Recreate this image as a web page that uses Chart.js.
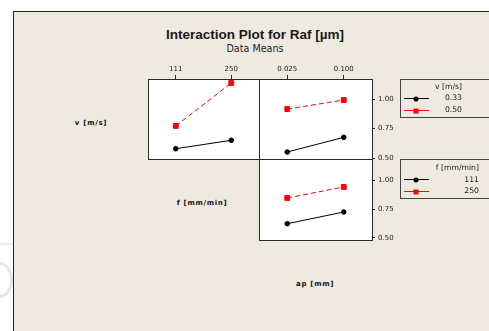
<!DOCTYPE html>
<html>
<head>
<meta charset="utf-8">
<script src="https://cdn.jsdelivr.net/npm/chart.js@4"></script>
<style>
  body { margin: 0; width: 489px; height: 331px; background: #fff; overflow: hidden; position: relative; font-family: "DejaVu Sans", sans-serif; color: #1a1a1a; }
  .frame { position: absolute; left: 13px; top: 11px; width: 480px; height: 330px; background: #eeeae0; border-left: 1px solid #222; border-top: 1px solid #222; }
  .mark { position: absolute; left: -13px; top: 262px; width: 20px; height: 30px; border: 3px solid #e6e6e6; border-radius: 50%; }
  .mark2 { position: absolute; left: 0; top: 243px; width: 13px; height: 2px; background: #ececec; }
  canvas { position: absolute; }
  .txt { position: absolute; white-space: nowrap; transform: translate(-50%, -50%); line-height: 1; }
  .rtxt { position: absolute; white-space: nowrap; transform: translate(-100%, -50%); line-height: 1; font-size: 7.7px; }
  .lgbox { position: absolute; border: 1px solid #444; }
  .lgline { position: absolute; height: 1px; width: 25px; }
  .dot { position: absolute; width: 5px; height: 5px; border-radius: 50%; background: #000; transform: translate(-50%, -50%); }
  .sq { position: absolute; width: 5px; height: 5px; background: #f00; transform: translate(-50%, -50%); }
  .row { font: bold 7px "DejaVu Sans", sans-serif; letter-spacing: 0.7px; color: #111; }
</style>
</head>
<body>
<div class="mark2"></div>
<div class="mark"></div>
<div class="frame"></div>

<div class="txt" style="left:255px; top:34px; font: bold 13.5px 'Liberation Sans', sans-serif;">Interaction Plot for Raf [µm]</div>
<div class="txt" style="left:255px; top:49px; font-size:9.6px;">Data Means</div>

<div class="txt row" style="left:91px; top:123px;">v [m/s]</div>
<div class="txt row" style="left:202px; top:203px;">f [mm/min]</div>
<div class="txt row" style="left:315px; top:284px;">ap [mm]</div>

<canvas id="pVF" width="112" height="105" style="left:148px; top:55px;"></canvas>
<canvas id="pVAp" width="145" height="110" style="left:259px; top:55px;"></canvas>
<canvas id="pFAp" width="145" height="93" style="left:259px; top:153px;"></canvas>

<!-- legend: v -->
<div class="lgbox" style="left:400px; top:79px; width:88px; height:37px;"></div>
<div class="rtxt" style="left:462px; top:87px;">v [m/s]</div>
<div class="lgline" style="left:404px; top:98px; background:#000;"></div>
<div class="dot" style="left:416px; top:98.5px;"></div>
<div class="rtxt" style="left:462px; top:98px;">0.33</div>
<div class="lgline" style="left:404px; top:110px; background:#f00;"></div>
<div class="sq" style="left:416px; top:110.5px;"></div>
<div class="rtxt" style="left:462px; top:110px;">0.50</div>

<!-- legend: f -->
<div class="lgbox" style="left:400px; top:159px; width:88px; height:38px;"></div>
<div class="rtxt" style="left:479px; top:168px;">f [mm/min]</div>
<div class="lgline" style="left:404px; top:179px; background:#000;"></div>
<div class="dot" style="left:416px; top:179.5px;"></div>
<div class="rtxt" style="left:479px; top:180px;">111</div>
<div class="lgline" style="left:404px; top:191px; background:#f00;"></div>
<div class="sq" style="left:416px; top:191.5px;"></div>
<div class="rtxt" style="left:479px; top:191px;">250</div>

<script>
// factor levels (x positions)
const fLevels = [111, 250]
const apLevels = [0.025, 0.100]
const yTicks = [0.50, 0.75, 1.00]

// means
const vF_033 = [0.579, 0.651]   // v=0.33 across f
const vF_050 = [0.773, 1.139]   // v=0.50 across f
const vAp_033 = [0.551, 0.676]  // v=0.33 across ap
const vAp_050 = [0.917, 0.994]  // v=0.50 across ap
const fAp_111 = [0.622, 0.724]  // f=111 across ap
const fAp_250 = [0.846, 0.942]  // f=250 across ap

const tickFont = { family: 'DejaVu Sans', size: 7 }

// white plot area + dark frame round it
const panelBox = {
  id: 'panelBox',
  beforeDraw(chart) {
    const a = chart.chartArea, ctx = chart.ctx
    ctx.save()
    ctx.fillStyle = '#fff'
    ctx.fillRect(a.left, a.top, a.right - a.left, a.bottom - a.top)
    ctx.restore()
  },
  afterDraw(chart) {
    const a = chart.chartArea, ctx = chart.ctx
    ctx.save()
    ctx.strokeStyle = '#2a2a2a'
    ctx.lineWidth = 1
    ctx.strokeRect(a.left + 0.5, a.top + 0.5, a.right - a.left, a.bottom - a.top)
    ctx.restore()
  }
}

const pairs = (xs, ys) => xs.map((x, i) => ({ x: x, y: ys[i] }))

const lowSeries = data => ({
  data: data, borderColor: '#000', backgroundColor: '#000', borderWidth: 1,
  pointStyle: 'circle', pointRadius: 2.3
})
const highSeries = data => ({
  data: data, borderColor: '#f00', backgroundColor: '#f00', borderWidth: 1,
  borderDash: [5, 3], pointStyle: 'rect', pointRadius: 3.4
})

const xScale = (levels, fmt, show) => {
  const span = levels[1] - levels[0]
  return {
    type: 'linear', position: 'top', display: show,
    min: levels[0] - span / 2, max: levels[1] + span / 2,
    afterBuildTicks: s => { s.ticks = levels.map(v => ({ value: v })) },
    afterFit: s => {
      if (show) s.height = 24
      s.paddingLeft = 0; s.paddingRight = 0
    },
    border: { display: false },
    grid: { drawOnChartArea: false, drawTicks: true, tickLength: 4, color: '#2a2a2a' },
    ticks: { font: tickFont, color: '#222', padding: 2, maxRotation: 0, callback: fmt }
  }
}

const yScale = (min, max, show) => ({
  type: 'linear', position: 'right', display: show, min: min, max: max,
  afterBuildTicks: s => { s.ticks = yTicks.map(v => ({ value: v })) },
  afterFit: s => {
    if (show) s.width = 32
    s.paddingTop = 0; s.paddingBottom = 0
  },
  border: { display: false },
  grid: { drawOnChartArea: false, drawTicks: true, tickLength: 3, color: '#2a2a2a' },
  ticks: { font: tickFont, color: '#222', padding: 3, callback: v => v.toFixed(2) }
})

const makePanel = (id, datasets, scales, padding) => new Chart(document.getElementById(id), {
  type: 'line',
  data: { datasets: datasets },
  options: {
    responsive: false, animation: false, devicePixelRatio: 1,
    layout: { padding: padding, autoPadding: false },
    scales: scales,
    plugins: { legend: { display: false }, tooltip: { enabled: false } }
  },
  plugins: [panelBox]
})

makePanel('pVF',
  [lowSeries(pairs(fLevels, vF_033)), highSeries(pairs(fLevels, vF_050))],
  { x: xScale(fLevels, v => String(v), true), y: yScale(0.4915, 1.173, false) },
  { right: 1, bottom: 1 })

makePanel('pVAp',
  [lowSeries(pairs(apLevels, vAp_033)), highSeries(pairs(apLevels, vAp_050))],
  { x: xScale(apLevels, v => v.toFixed(3), true), y: yScale(0.4915, 1.173, true) },
  { bottom: 6 })

makePanel('pFAp',
  [lowSeries(pairs(apLevels, fAp_111)), highSeries(pairs(apLevels, fAp_250))],
  { x: xScale(apLevels, v => v.toFixed(3), false), y: yScale(0.48, 1.1855, true) },
  { top: 6, bottom: 6 })
</script>
</body>
</html>
